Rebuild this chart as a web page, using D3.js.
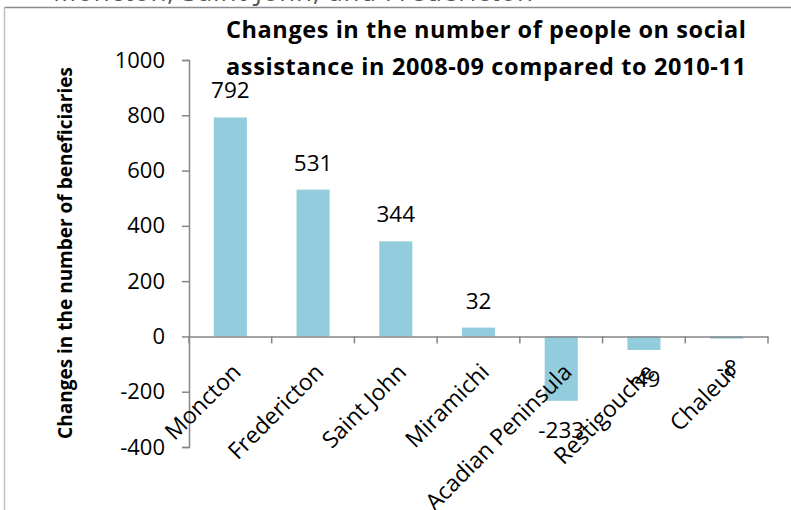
<!DOCTYPE html>
<html>
<head>
<meta charset="utf-8">
<script src="https://cdn.jsdelivr.net/npm/d3@7"></script>
<style>
  html, body { margin: 0; padding: 0; background: #fff; }
  svg { display: block; font-family: "Open Sans", sans-serif; }
</style>
</head>
<body>
<div id="chart"></div>
<script>
const regions = ['Moncton', 'Fredericton', 'Saint John', 'Miramichi', 'Acadian Peninsula', 'Restigouche', 'Chaleur'];
const changes = [792, 531, 344, 32, -233, -49, -8];
const yTicks = [-400, -200, 0, 200, 400, 600, 800, 1000];
const titleLines = ['Changes in the number of people on social', 'assistance in 2008-09 compared to 2010-11'];
const yTitle = 'Changes in the number of beneficiaries';
const topCaption = 'Moncton, Saint John, and Fredericton';

const W = 791, H = 510;
const margin = { top: 60, right: 23, bottom: 63, left: 189 };

const svg = d3.select('#chart').append('svg').attr('width', W).attr('height', H);

// frame of the embedded chart; the line above it is cut by the page as in the source
svg.append('text')
  .attr('x', 53).attr('y', 0.5)
  .attr('fill', '#555')
  .attr('font-size', 26)
  .attr('textLength', 480)
  .text(topCaption);
svg.append('line').attr('x1', 4).attr('x2', W).attr('y1', 7.5).attr('y2', 7.5)
  .attr('stroke', '#8c8c8c').attr('stroke-width', 1.5);
svg.append('line').attr('x1', 4.5).attr('x2', 4.5).attr('y1', 7).attr('y2', H)
  .attr('stroke', '#c0c0c0').attr('stroke-width', 1.5);

const x = d3.scaleBand()
  .domain(regions)
  .range([margin.left, W - margin.right])
  .padding(0);

const y = d3.scaleLinear()
  .domain([-400, 1000])
  .range([H - margin.bottom, margin.top]);

// y axis
const yAxis = svg.append('g')
  .attr('transform', `translate(${margin.left},0)`)
  .call(d3.axisLeft(y).tickValues(yTicks).tickSize(7).tickPadding(17).tickFormat(d => String(d)));
yAxis.select('.domain').attr('stroke', '#868686').attr('stroke-width', 1.5);
yAxis.selectAll('.tick line').attr('stroke', '#868686').attr('stroke-width', 1.5);
yAxis.selectAll('.tick text').attr('font-size', 22).attr('fill', '#000')
  .attr('font-family', '"Open Sans", sans-serif');

// bars
const barW = x.bandwidth() * 0.4;
svg.selectAll('.bar')
  .data(changes)
  .join('rect')
  .attr('class', 'bar')
  .attr('x', (d, i) => x(regions[i]) + x.bandwidth() / 2 - barW / 2)
  .attr('width', barW)
  .attr('y', d => y(Math.max(0, d)))
  .attr('height', d => Math.abs(y(d) - y(0)))
  .attr('fill', '#93cddd');

// x axis line and ticks at zero
const xAxis = svg.append('g')
  .attr('transform', `translate(0,${y(0)})`)
  .call(d3.axisBottom(x).tickSize(0).tickFormat(''));
xAxis.select('.domain').attr('stroke', '#868686').attr('stroke-width', 1.5);
xAxis.selectAll('.tick').remove();
const bounds = [margin.left].concat(regions.map(r => x(r) + x.bandwidth()));
xAxis.selectAll('.xtick')
  .data(bounds)
  .join('line')
  .attr('class', 'xtick')
  .attr('x1', d => d).attr('x2', d => d)
  .attr('y1', 0).attr('y2', 7)
  .attr('stroke', '#868686').attr('stroke-width', 1.5);

// category labels, rotated
svg.selectAll('.cat')
  .data(regions)
  .join('text')
  .attr('class', 'cat')
  .attr('text-anchor', 'end')
  .attr('font-size', 23)
  .attr('transform', d => `translate(${x(d) + x.bandwidth() / 2 + 12},${y(0) + 37}) rotate(-45)`)
  .text(d => d);

// value labels
svg.selectAll('.val')
  .data(changes)
  .join('text')
  .attr('class', 'val')
  .attr('text-anchor', 'middle')
  .attr('font-size', 22.5)
  .attr('x', (d, i) => x(regions[i]) + x.bandwidth() / 2)
  .attr('y', d => d >= 0 ? y(d) - 19 : y(d) + 37)
  .text(d => d);

// title
svg.append('text')
  .attr('text-anchor', 'middle')
  .attr('font-weight', 'bold')
  .attr('font-size', 23.5)
  .selectAll('tspan')
  .data(titleLines)
  .join('tspan')
  .attr('x', 486)
  .attr('y', (d, i) => 38 + i * 36.5)
  .attr('textLength', 520)
  .text(d => d);

// y axis title
svg.append('text')
  .attr('text-anchor', 'middle')
  .attr('font-weight', 'bold')
  .attr('font-size', 19)
  .attr('transform', `translate(72,${253}) rotate(-90)`)
  .text(yTitle);
</script>
</body>
</html>
